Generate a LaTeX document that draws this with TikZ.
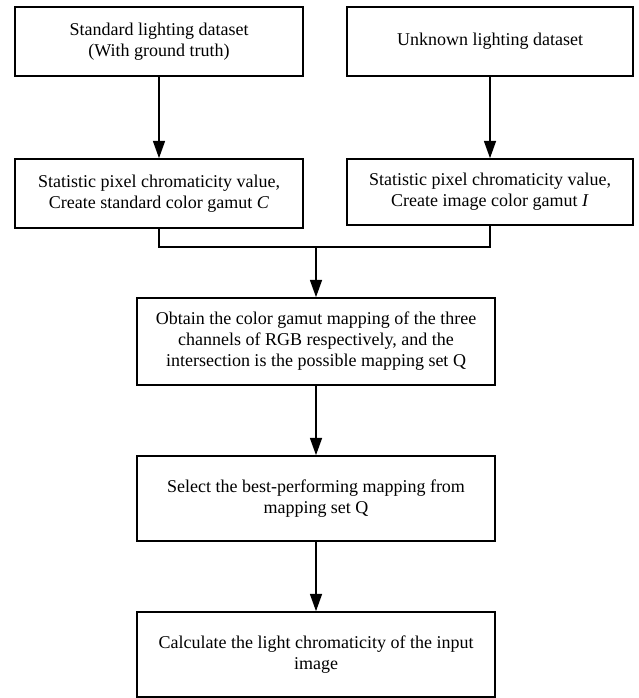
\documentclass[tikz,border=0pt]{standalone}
\usepackage{fontspec}
\setmainfont{Liberation Serif}
\usetikzlibrary{arrows.meta}
\begin{document}
\begin{tikzpicture}[x=0.75pt,y=-0.75pt,
  box/.style={draw,line width=1.2pt,align=center,inner sep=0pt,
    font=\fontsize{13.5}{15.8}\selectfont},
  topbox/.style={box,minimum width=216pt,minimum height=51.75pt},
  midbox/.style={box,minimum width=268.5pt},
  arr/.style={line width=1.2pt,-{Triangle[length=13pt,width=9pt]}},
  ln/.style={line width=1.2pt}]
\useasboundingbox (0,0) rectangle (638,698);
\node[topbox] (b1) at (159,41.5) {Standard lighting dataset\\(With ground truth)};
\node[topbox,minimum width=214.5pt] (b2) at (490,41.5) {Unknown lighting dataset};
\node[topbox] (b3) at (159,193.5) {Statistic pixel chromaticity value,\\Create standard color gamut \textit{C}};
\node[topbox,minimum width=214.5pt,minimum height=49.5pt] (b4) at (490,192) {Statistic pixel chromaticity value,\\Create image color gamut \textit{I}};
\node[midbox,minimum height=65.25pt] (b5) at (316,341.5) {Obtain the color gamut mapping of the three\\channels of RGB respectively, and the\\intersection is the possible mapping set Q};
\node[midbox,minimum height=63.75pt] (b6) at (316,498.5) {Select the best-performing mapping from\\mapping set Q};
\node[midbox,minimum height=63.75pt] (b7) at (316,654.5) {Calculate the light chromaticity of the input\\image};
\coordinate (m) at (316,247);
\draw[arr] (b1) -- (b3);
\draw[arr] (b2) -- (b4);
\draw[ln] (b3.south) |- (m);
\draw[ln] (b4.south) |- (m);
\draw[arr] (m) -- (b5.north);
\draw[arr] (b5) -- (b6);
\draw[arr] (b6) -- (b7);
\end{tikzpicture}
\end{document}
